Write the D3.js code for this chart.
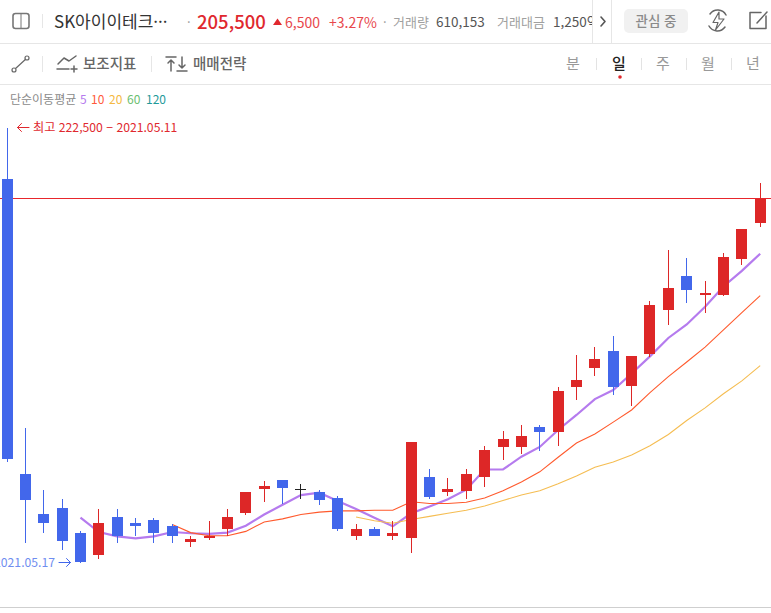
<!DOCTYPE html>
<html lang="ko"><head><meta charset="utf-8">
<script src="https://cdn.jsdelivr.net/npm/d3@7"></script>
<style>html,body{margin:0;padding:0;background:#fff;overflow:hidden}svg{display:block}text{font-family:"Noto Sans CJK KR","Noto Sans",sans-serif}</style>
</head><body><svg id="c" width="771" height="613"></svg>
<script>
// Daily candles, first one 2021.05.11; prices in won
const opens =[210000,150700,144000,145000,141000,137500,143500,142600,143100,142100,139500,140100,141500,144100,148100,149700,148100,147600,146600,140500,141500,140500,140100,150200,147600,147700,150200,155300,155300,158900,157900,166100,169700,173000,166400,172500,181300,188400,184300,184300,192000,199800];
const closes=[153200,146200,142600,139600,136400,142600,140500,142100,141000,140500,140000,140500,143500,147600,148600,148200,148100,146200,141500,141500,140500,141000,156200,146700,148100,150700,154800,156700,157300,157900,165400,167500,171500,166100,172100,182300,185800,185400,184800,192400,198600,205500];
const highs =[222500,158700,148000,146400,141300,144800,144800,143400,143400,142400,140400,142900,144800,147600,149500,149700,149000,148000,147000,142400,141900,142900,156200,151500,150000,151500,155500,158200,159200,159200,166200,172300,173800,176000,172100,183100,193900,192200,187300,193300,198600,209100];
const lows  =[152700,139400,140900,138300,136300,136800,139400,140400,139400,139400,138800,139900,140400,143900,146000,145600,146500,145500,141300,139900,140400,139900,137800,146500,147000,146500,148500,153100,154100,154600,155500,163800,168300,164700,162700,171900,178100,182700,180700,184100,190700,199100];
const ma5 =[143400,141100,140400,140100,140400,141100,140900,140800,141000,142100,143900,145500,147100,147500,146100,144800,143400,142000,144100,145200,146400,148000,151400,151400,153600,155300,158300,161000,163900,165600,168700,172000,175600,178300,181900,186100,189400,193100];
const ma10=[142300,141000,140500,140500,141200,142700,143200,143900,144300,144500,144500,144600,144600,146000,145700,145700,145900,146600,147800,149300,151000,153500,156000,157600,159700,161900,165100,168100,170900,173800,177200,180700,184200];
const ma20=[143500,142900,142500,143100,143600,144100,144600,145300,146200,147100,147800,149000,150300,151800,152700,153900,155500,157500,160000,162300,164900,167300,170200];
const legendItems=[["5","#b57bee"],["10","#ff5a3c"],["20","#f5b942"],["60","#6cc070"],["120","#1f9a9a"]];
const periods=["분","일","주","월","년"];

const RED="#dd2727",BLUE="#4267eb",TXTRED="#e0282e";
const svg=d3.select("#c");
const x=d3.scaleLinear().domain([0,opens.length-1]).range([7,760.2]);
const y=d3.scaleLog().domain([222500,205500]).range([128,198.5]);
const px=i=>Math.round(x(i)-.5)+.5;

function txt(s,X,Y,size,fill,o={}){return svg.append("text").attr("x",X).attr("y",Y).attr("font-size",size).attr("fill",fill).attr("font-weight",o.w||400).attr("text-anchor",o.a||"start").text(s);}
function hl(Y,c){svg.append("line").attr("x1",0).attr("x2",771).attr("y1",Y).attr("y2",Y).attr("stroke",c);}
function vl(X,a,b,c){svg.append("line").attr("x1",X).attr("x2",X).attr("y1",a).attr("y2",b).attr("stroke",c);}
function ic(d,sw,c,fill){svg.append("path").attr("d",d).attr("fill",fill||"none").attr("stroke",c).attr("stroke-width",sw).attr("stroke-linecap","round").attr("stroke-linejoin","round");}

// chrome
hl(43.5,"#e6e6e6");hl(84.5,"#e6e6e6");hl(607.5,"#cfcfcf");
svg.append("rect").attr("x",13).attr("y",13.5).attr("width",16).attr("height",15).attr("rx",2.5).attr("fill","none").attr("stroke","#777").attr("stroke-width",1.6);
vl(21,14,28,"#777");vl(42.5,14,28,"#e6e6e6");
txt("SK아이이테크···",54,27.5,17,"#333");
txt("·",187,27,13,"#999");
txt("205,500",197,28.5,18.5,TXTRED,{w:500});
svg.append("path").attr("d","M273 25L277.5 18.5L282 25Z").attr("fill",TXTRED);
txt("6,500",285,27.5,14,"#e8474c");
txt("+3.27%",329,27.5,14,"#e8474c");
txt("·",383,27,13,"#999");
txt("거래량",393,27,13,"#a0a0a0");
txt("610,153",436,27,13.5,"#555");
txt("거래대금",497,27,13,"#a0a0a0");
svg.append("clipPath").attr("id","hc").append("rect").attr("x",0).attr("y",0).attr("width",592).attr("height",43);
txt("1,250억",553,27,13.5,"#555").attr("clip-path","url(#hc)");
vl(592.5,0,43,"#e6e6e6");vl(611.5,0,43,"#e6e6e6");
ic("M601 17L605 21.5L601 26",1.6,"#555");
svg.append("rect").attr("x",624).attr("y",9).attr("width",64).attr("height",24).attr("rx",5).attr("fill","#f1f1f1");
txt("관심 중",656,26,13.5,"#8a8a8a",{a:"middle",w:500});
ic("M710 14A9.5 9.5 0 0 1 726 15M725 27A9.5 9.5 0 0 1 709 26",1.5,"#666");
ic("M719 12L713 22.5H718L715.5 30L724 19H719Z",1.2,"#666");
ic("M766 16V28.5H750V12.5H761",1.5,"#666");ic("M757 23L767 12",1.5,"#666");

// toolbar
ic("M15 69L27 58",1.2,"#666");
svg.append("circle").attr("cx",14).attr("cy",70).attr("r",2).attr("fill","#fff").attr("stroke","#666").attr("stroke-width",1.2);
svg.append("circle").attr("cx",27).attr("cy",58).attr("r",2).attr("fill","#fff").attr("stroke","#666").attr("stroke-width",1.2);
vl(42.5,56,72,"#e6e6e6");
ic("M58 64L64 58L69 61L76 56",1.5,"#666");ic("M57 69H69M71 69H77M74 66V72",1.5,"#666");
txt("보조지표",83,68.5,14.5,"#666",{w:500});
vl(151.5,56,72,"#e6e6e6");
ic("M166 57H176M171 71V60M168 63L171 60L174 63",1.5,"#666");
ic("M177 71H187M182 57V68M179 65L182 68L185 65",1.5,"#666");
txt("매매전략",193,68.5,14.5,"#666",{w:500});
const perX=[573,619,663,708,753];
periods.forEach((p,i)=>txt(p,perX[i],68.5,15,i===1?"#222":"#999",{a:"middle",w:i===1?500:400}));
[596.5,641.5,686.5,731.5].forEach(v=>vl(v,58,70,"#e3e3e3"));
svg.append("circle").attr("cx",620).attr("cy",77).attr("r",1.8).attr("fill",TXTRED);

// legend
txt("단순이동평균",10,104,12,"#8a8a8a");
const legX=[80,91,109,127,146];
legendItems.forEach((d,i)=>txt(d[0],legX[i],104,12,d[1]));

// current price line
svg.append("line").attr("x1",0).attr("x2",771).attr("y1",198.5).attr("y2",198.5).attr("stroke","#e8262c").attr("stroke-width",1).attr("shape-rendering","crispEdges");

// moving averages
const line=off=>d3.line().x((d,i)=>x(i+off)).y(d=>y(d));
[[ma5,4,"#b57bee",2.2],[ma10,9,"#ff5a2d",1.1],[ma20,19,"#f5bd52",1.1]].forEach(([v,o,c,w])=>{
  svg.append("path").attr("d",line(o)(v)).attr("fill","none").attr("stroke",c).attr("stroke-width",w);
});

// candles
const idx=d3.range(opens.length);
const col=i=>closes[i]>opens[i]?RED:closes[i]<opens[i]?BLUE:"#222";
const g=svg.append("g").attr("shape-rendering","crispEdges");
g.selectAll(".w").data(idx).join("line").attr("x1",px).attr("x2",px).attr("y1",i=>y(highs[i])).attr("y2",i=>y(lows[i])).attr("stroke",col);
g.selectAll(".b").data(idx).join("rect").attr("x",i=>px(i)-5.5).attr("width",11)
 .attr("y",i=>y(Math.max(opens[i],closes[i])))
 .attr("height",i=>Math.max(1,Math.abs(y(opens[i])-y(closes[i]))))
 .attr("fill",col);

// annotations
const hi=d3.max(highs);
ic("M29 127.5H17.5M21.5 123.5L17.5 127.5L21.5 131.5",1,TXTRED);
txt("최고 "+d3.format(",")(hi)+" − 2021.05.11",33,131.5,12.2,TXTRED);
txt("2021.05.17",55,567,12.2,"#6f8df0",{a:"end"});
ic("M59 562.5H70.5M66.5 558.5L70.5 562.5L66.5 566.5",1,BLUE);
</script></body></html>
